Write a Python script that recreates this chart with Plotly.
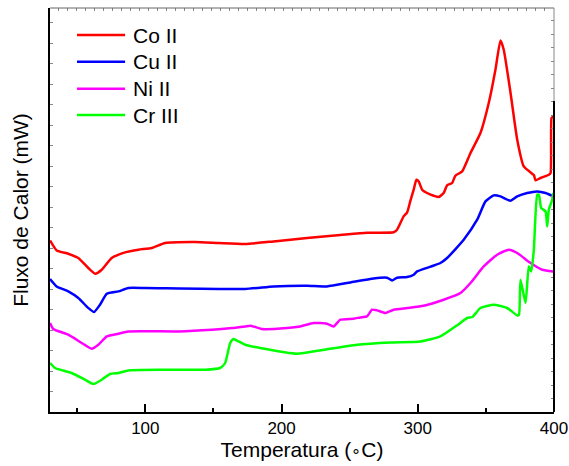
import plotly.graph_objects as go

# Temperature (°C) and heat flow (arbitrary mW offsets)
co_T = [30.0, 34.9, 43.4, 50.8, 58.1, 63.1, 68.0, 75.3, 85.1, 94.9, 104.7, 114.5, 136.6, 153.7,
        173.3, 194.1, 218.7, 243.1, 262.7, 282.3, 284.8, 289.6, 292.1, 294.6, 297.0, 299.0,
        300.7, 303.2, 306.8, 311.7, 315.4, 319.0, 321.5, 325.2, 327.6, 332.6, 338.7, 346.0,
        352.1, 357.0, 360.7, 363.1, 368.1, 373.0, 377.8, 384.0, 385.3, 386.4, 390.1, 396.2,
        397.5, 398.2, 399.4]
co_Q = [171.6, 161.6, 158.3, 154.0, 144.0, 138.3, 142.3, 154.0, 159.6, 162.3, 164.0, 169.0, 170.0, 169.0,
        168.0, 170.6, 174.0, 177.0, 179.3, 179.8, 182.3, 195.6, 199.3, 211.3, 222.3, 232.3,
        230.6, 222.3, 219.0, 216.3, 215.0, 219.0, 226.6, 229.0, 236.3, 240.6, 259.0, 279.0,
        309.0, 342.3, 371.6, 362.3, 319.0, 272.3, 245.6, 238.3, 236.8, 231.6, 234.0, 237.3,
        239.0, 294.0, 295.6]

cu_T = [30.0, 34.9, 43.4, 50.8, 58.1, 62.3, 66.7, 71.7, 80.2, 87.5, 99.8, 173.3, 194.1, 218.7,
        233.3, 250.5, 267.6, 277.4, 281.1, 284.8, 292.1, 297.0, 299.5, 309.3, 316.6, 321.5,
        333.7, 343.6, 349.7, 355.8, 360.7, 368.1, 373.0, 380.3, 387.7, 393.8, 399.4]
cu_Q = [133.0, 125.6, 120.6, 114.0, 104.0, 100.0, 107.3, 118.3, 120.6, 124.0, 124.0, 123.0, 125.6, 126.3,
        125.6, 129.6, 133.6, 134.3, 131.6, 134.3, 135.0, 137.3, 140.6, 145.3, 149.0, 154.0,
        172.3, 192.3, 210.6, 216.6, 215.6, 211.3, 215.6, 219.0, 220.6, 219.0, 215.6]

ni_T = [30.0, 32.4, 43.4, 53.3, 60.6, 65.5, 71.7, 80.2, 87.5, 124.3, 148.8, 163.5, 173.3, 177.4,
        185.4, 204.0, 213.7, 223.5, 233.3, 238.2, 243.1, 252.9, 257.8, 262.7, 266.4, 270.1,
        276.2, 282.3, 292.1, 304.3, 319.0, 331.3, 338.7, 348.4, 358.3, 366.8, 373.0, 382.8,
        391.4, 399.4]
ni_Q = [89.0, 83.0, 77.3, 69.0, 63.3, 67.3, 75.6, 78.3, 80.6, 80.6, 82.3, 84.0, 85.6, 86.3,
        83.0, 84.0, 85.6, 89.0, 88.3, 85.6, 92.3, 93.3, 94.6, 95.6, 102.3, 101.6,
        99.0, 102.3, 104.0, 106.3, 112.3, 119.0, 129.0, 145.6, 157.3, 162.3, 159.0, 149.0,
        142.3, 140.6]

cr_T = [30.0, 33.7, 45.9, 55.7, 61.8, 68.0, 74.1, 80.2, 87.5, 112.1, 143.9, 154.9, 158.6, 162.3,
        164.7, 168.4, 173.3, 184.3, 211.3, 230.9, 255.4, 279.9, 301.9, 316.6, 329.5, 336.2,
        340.1, 346.0, 355.8, 365.6, 373.0, 374.3, 375.4, 379.1, 381.5, 383.3, 385.2, 387.7,
        388.9, 390.6, 393.8, 395.0, 396.2, 398.7, 399.4]
cr_Q = [49.0, 44.0, 39.0, 32.3, 28.0, 32.3, 38.0, 39.0, 41.6, 42.3, 42.3, 44.0, 49.0, 69.0,
        73.0, 70.6, 67.3, 64.0, 58.3, 62.3, 67.3, 69.6, 70.6, 75.6, 87.3, 94.0,
        95.0, 104.0, 107.3, 104.0, 96.6, 97.3, 132.3, 109.0, 145.6, 140.6, 162.3, 217.3,
        217.3, 204.0, 200.6, 185.6, 202.3, 212.3, 219.0]

names = ["Co II", "Cu II", "Ni II", "Cr III"]
colors = ["#ff0000", "#0000ff", "#ff00ff", "#00ff00"]
series_T = [co_T, cu_T, ni_T, cr_T]
series_Q = [co_Q, cu_Q, ni_Q, cr_Q]

x_range = [30, 400]
y_range = [0, 404]
x_ticks = [100, 200, 300, 400]

FONT = "Arial, Liberation Sans, sans-serif"

fig = go.Figure()
for n, c, t, q in zip(names, colors, series_T, series_Q):
    fig.add_trace(go.Scatter(x=t, y=q, mode="lines", name=n,
                             line=dict(color=c, width=2.5, shape="spline", smoothing=0.5)))

# invisible helper trace for the top/right tick axes
fig.add_trace(go.Scatter(x=[x_range[0]], y=[0], xaxis="x2", yaxis="y2", mode="markers",
                         marker=dict(opacity=0), showlegend=False, hoverinfo="skip"))

fig.update_layout(
    width=569, height=466,
    margin=dict(l=50, r=15, t=8, b=54),
    paper_bgcolor="white", plot_bgcolor="white",
    showlegend=False,
    font=dict(family=FONT, color="black"),
    xaxis=dict(range=x_range, tickvals=x_ticks, ticks="inside", ticklen=8, tickwidth=1.5,
               tickcolor="black", showline=True, linecolor="black", linewidth=2,
               showgrid=False, zeroline=False, tickfont=dict(size=17), automargin=False,
               minor=dict(tickvals=[50, 150, 250, 350], ticks="inside", ticklen=4,
                          tickwidth=1.5, tickcolor="black"),
               title=dict(text="Temperatura (<span style='font-size:16px'>\u2218</span>C)",
                          font=dict(size=21), standoff=2)),
    xaxis2=dict(range=x_range, overlaying="x", side="top", ticks="inside", ticklen=3,
                tick0=30, dtick=6.6, tickcolor="#888", tickwidth=1, showticklabels=False,
                showgrid=False, zeroline=False, showline=False, automargin=False),
    yaxis=dict(range=y_range, ticks="inside", ticklen=3, tick0=0, dtick=20.5,
               tickcolor="#888", showticklabels=False, showline=True, linecolor="black",
               linewidth=2, showgrid=False, zeroline=False, automargin=False,
               title=dict(text="Fluxo de Calor (mW)", font=dict(size=21), standoff=14)),
    yaxis2=dict(range=y_range, overlaying="y", side="right", ticks="inside", ticklen=3,
                tick0=0, dtick=13.5, tickcolor="#888", showticklabels=False,
                showgrid=False, zeroline=False, showline=False, automargin=False),
)

shapes = [
    dict(type="line", xref="paper", yref="paper", x0=0, x1=1, y0=1, y1=1,
         line=dict(color="#666", width=1)),
    dict(type="line", xref="paper", yref="paper", x0=1, x1=1, y0=0, y1=1,
         line=dict(color="#888", width=1)),
    dict(type="line", xref="paper", yref="y", x0=1, x1=1, y0=0, y1=311,
         line=dict(color="black", width=2)),
]
annotations = []
leg_y = [0.933, 0.867, 0.800, 0.735]
for n, c, yy in zip(names, colors, leg_y):
    shapes.append(dict(type="line", xref="paper", yref="paper", x0=0.0536, x1=0.149,
                       y0=yy, y1=yy, line=dict(color=c, width=2.5)))
    annotations.append(dict(xref="paper", yref="paper", x=0.161, y=yy, text=n,
                            showarrow=False, xanchor="left", yanchor="middle",
                            font=dict(size=21, family=FONT, color="black")))
fig.update_layout(shapes=shapes, annotations=annotations)

fig.write_html("out.html", config={"displayModeBar": False},
               post_script="document.body.style.margin='0';document.body.style.padding='0';")
